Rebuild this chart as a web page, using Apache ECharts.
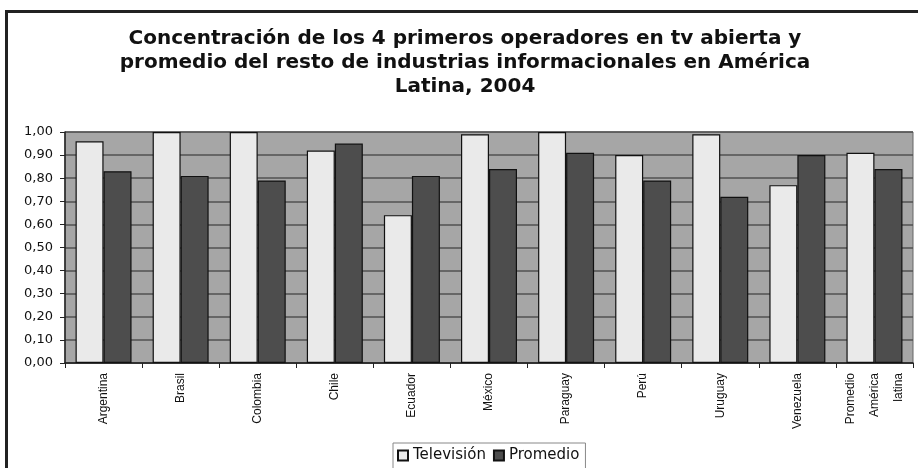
<!DOCTYPE html>
<html>
<head>
<meta charset="utf-8">
<script src="https://cdn.jsdelivr.net/npm/echarts@6/dist/echarts.min.js"></script>
<style>
  html, body { margin: 0; padding: 0; background: #fff; }
  #chart { width: 918px; height: 468px; }
</style>
</head>
<body>
<div id="chart"></div>
<script>
// datos
const paises = ["Argentina", "Brasil", "Colombia", "Chile", "Ecuador", "México", "Paraguay", "Perú", "Uruguay", "Venezuela", "Promedio\nAmérica\nlatina"];
const television = [0.96, 1.00, 1.00, 0.92, 0.64, 0.99, 1.00, 0.90, 0.99, 0.77, 0.91];
const promedio = [0.83, 0.81, 0.79, 0.95, 0.81, 0.84, 0.91, 0.79, 0.72, 0.90, 0.84];
const ejeY = { min: 0, max: 1, interval: 0.1 };

let chartInit = echarts.init(document.getElementById("chart"));

// fuente ancha para imitar el texto estirado del original
const ancha = "DejaVu Sans, Verdana, sans-serif";

let option = {
  animation: false,
  textStyle: { fontFamily: "Liberation Sans, Arial, sans-serif" },
  title: {
    text: "Concentración de los 4 primeros operadores en tv abierta y\npromedio del resto de industrias informacionales en América\nLatina, 2004",
    left: 460,
    top: 22,
    textAlign: "center",
    textStyle: {
      fontFamily: ancha,
      fontSize: 20,
      fontWeight: "bold",
      lineHeight: 24,
      color: "#111",
    },
  },
  // marco del gráfico
  graphic: [
    {
      type: "rect",
      left: 4,
      top: 9,
      shape: { width: 1000, height: 1000 },
      style: { fill: null, stroke: "#222", lineWidth: 3 },
      silent: true,
    },
  ],
  legend: {
    left: 393,
    top: 443,
    padding: [5, 6, 8, 4],
    backgroundColor: "#fff",
    borderColor: "#888",
    borderWidth: 1,
    borderRadius: 0,
    itemWidth: 10,
    itemHeight: 10,
    itemGap: 7,
    icon: "rect",
    textStyle: { fontFamily: ancha, fontSize: 15, color: "#111" },
    data: ["Televisión", "Promedio"],
  },
  grid: {
    left: 65,
    right: 5,
    top: 132,
    bottom: 105,
    show: true,
    backgroundColor: "#A6A6A6",
    borderColor: "#666",
    borderWidth: 1,
  },
  xAxis: {
    type: "category",
    data: paises,
    axisLine: { lineStyle: { color: "#222", width: 1.5 } },
    axisTick: { show: true, length: 5, lineStyle: { color: "#222" } },
    axisLabel: {
      rotate: 90,
      margin: 10,
      fontSize: 12,
      lineHeight: 24,
      color: "#111",
      interval: 0,
    },
  },
  yAxis: {
    type: "value",
    min: ejeY.min,
    max: ejeY.max,
    interval: ejeY.interval,
    axisLine: { show: true, lineStyle: { color: "#222", width: 1.5 } },
    axisTick: { show: true, length: 5, lineStyle: { color: "#222" } },
    axisLabel: {
      fontFamily: ancha,
      fontSize: 13,
      color: "#111",
      margin: 12,
      formatter: (v) => v.toFixed(2).replace(".", ","),
    },
    splitLine: { lineStyle: { color: "#505050", width: 1.5 } },
  },
  series: [
    {
      name: "Televisión",
      type: "bar",
      data: television,
      barWidth: 28,
      barGap: "0%",
      itemStyle: { color: "#EAEAEA", borderColor: "#111", borderWidth: 1.2 },
    },
    {
      name: "Promedio",
      type: "bar",
      data: promedio,
      barWidth: 28,
      itemStyle: { color: "#4D4D4D", borderColor: "#111", borderWidth: 1.2 },
    },
  ],
};

chartInit.setOption(option);
</script>
</body>
</html>
